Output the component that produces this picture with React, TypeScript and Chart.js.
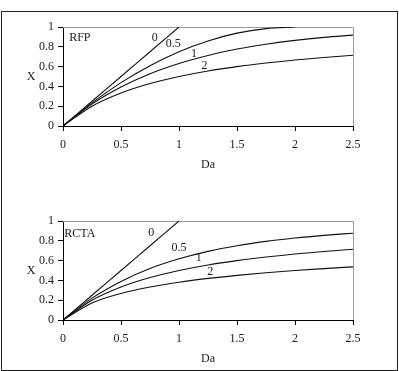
import React, { useEffect, useRef } from "react";
import { Chart, registerables } from "chart.js";

Chart.register(...registerables);

// ---- data ----
const daGrid = [0, 0.25, 0.5, 0.75, 1, 1.25, 1.5, 1.75, 2, 2.25, 2.5];
const xTickValues = [0, 0.5, 1, 1.5, 2, 2.5];
const yTickValues = [0, 0.2, 0.4, 0.6, 0.8, 1];
const curveNames = ["0", "0.5", "1", "2"];

// RFP panel
const rfp0 = [0, 0.25, 0.5, 0.75, 1, null, null, null, null, null, null];
const rfp05 = [0, 0.234, 0.438, 0.609, 0.75, 0.859, 0.938, 0.984, 1, null, null];
const rfp1 = [0, 0.221, 0.393, 0.528, 0.632, 0.713, 0.777, 0.826, 0.865, 0.895, 0.918];
const rfp2 = [0, 0.2, 0.333, 0.429, 0.5, 0.556, 0.6, 0.636, 0.667, 0.692, 0.714];

// RCTA panel
const rcta0 = [0, 0.25, 0.5, 0.75, 1, null, null, null, null, null, null];
const rcta05 = [0, 0.221, 0.39, 0.52, 0.618, 0.693, 0.75, 0.794, 0.828, 0.855, 0.877];
const rcta1 = [0, 0.2, 0.333, 0.429, 0.5, 0.556, 0.6, 0.636, 0.667, 0.692, 0.714];
const rcta2 = [0, 0.172, 0.268, 0.333, 0.382, 0.42, 0.451, 0.478, 0.5, 0.519, 0.537];

// curve-label anchors (in data units)
const rfpLabelDa = [0.79, 0.95, 1.13, 1.22];
const rfpLabelX = [0.89, 0.83, 0.73, 0.61];
const rctaLabelDa = [0.76, 1.0, 1.17, 1.27];
const rctaLabelX = [0.88, 0.73, 0.63, 0.49];

const SERIF = "'Liberation Serif', 'Times New Roman', serif";
const TEXT = "#1a1a1a";

type PanelSpec = {
  name: string;
  nameDa: number;
  nameX: number;
  series: (number | null)[][];
  labelDa: number[];
  labelX: number[];
};

const panels: PanelSpec[] = [
  { name: "RFP", nameDa: 0.145, nameX: 0.89, series: [rfp0, rfp05, rfp1, rfp2], labelDa: rfpLabelDa, labelX: rfpLabelX },
  { name: "RCTA", nameDa: 0.145, nameX: 0.87, series: [rcta0, rcta05, rcta1, rcta2], labelDa: rctaLabelDa, labelX: rctaLabelX },
];

function toPoints(values: (number | null)[]) {
  const pts: { x: number; y: number }[] = [];
  values.forEach((v, i) => {
    if (v !== null) pts.push({ x: daGrid[i], y: v });
  });
  return pts;
}

function makeDecor(spec: PanelSpec) {
  return {
    id: "decor",
    beforeDatasetsDraw(chart: any) {
      const { ctx, chartArea } = chart;
      ctx.save();
      ctx.strokeStyle = "#9a9a9a";
      ctx.lineWidth = 1;
      ctx.beginPath();
      ctx.moveTo(chartArea.left, Math.round(chartArea.top) + 0.5);
      ctx.lineTo(Math.round(chartArea.right) + 0.5, Math.round(chartArea.top) + 0.5);
      ctx.lineTo(Math.round(chartArea.right) + 0.5, chartArea.bottom);
      ctx.stroke();
      ctx.restore();
    },
    afterDraw(chart: any) {
      const { ctx, chartArea, scales } = chart;
      ctx.save();
      ctx.fillStyle = TEXT;
      ctx.font = `12px ${SERIF}`;
      ctx.textAlign = "center";
      ctx.textBaseline = "middle";
      ctx.fillText(spec.name, scales.x.getPixelForValue(spec.nameDa), scales.y.getPixelForValue(spec.nameX));
      curveNames.forEach((n, i) => {
        ctx.fillText(n, scales.x.getPixelForValue(spec.labelDa[i]), scales.y.getPixelForValue(spec.labelX[i]));
      });
      ctx.fillText("X", 31, (chartArea.top + chartArea.bottom) / 2);
      ctx.restore();
    },
  };
}

function Panel({ spec, top }: { spec: PanelSpec; top: number }) {
  const ref = useRef<HTMLCanvasElement>(null);
  useEffect(() => {
    const tickFont = { family: SERIF, size: 12 };
    const chart = new Chart(ref.current as HTMLCanvasElement, {
      type: "line",
      data: {
        datasets: spec.series.map((s, i) => ({
          label: curveNames[i],
          data: toPoints(s),
          borderColor: "#111",
          borderWidth: 1.1,
          pointRadius: 0,
          fill: false,
          cubicInterpolationMode: "monotone" as const,
        })),
      },
      options: {
        responsive: false,
        animation: false,
        layout: { padding: { top: 27, right: 46, left: 0, bottom: 0 } },
        plugins: { legend: { display: false }, tooltip: { enabled: false } },
        scales: {
          x: {
            type: "linear",
            min: 0,
            max: 2.5,
            afterBuildTicks: (s: any) => {
              s.ticks = xTickValues.map((v) => ({ value: v }));
            },
            afterFit: (s: any) => {
              s.height = 46;
            },
            grid: { drawOnChartArea: false, drawTicks: true, tickLength: 5, color: "#000", lineWidth: 1 },
            border: { color: "#000", width: 1 },
            ticks: { color: TEXT, font: tickFont, padding: 7, maxRotation: 0, callback: (v: any) => String(v) },
            title: { display: true, text: "Da", color: TEXT, font: tickFont, padding: 0 },
          },
          y: {
            type: "linear",
            min: 0,
            max: 1,
            afterBuildTicks: (s: any) => {
              s.ticks = yTickValues.map((v) => ({ value: v }));
            },
            afterFit: (s: any) => {
              s.width = 63;
            },
            grid: { drawOnChartArea: false, drawTicks: true, tickLength: 5, color: "#000", lineWidth: 1 },
            border: { color: "#000", width: 1 },
            ticks: { color: TEXT, font: tickFont, padding: 4, callback: (v: any) => String(v) },
          },
        },
      },
      plugins: [makeDecor(spec)],
    } as any);
    return () => chart.destroy();
  }, [spec]);
  return (
    <canvas
      ref={ref}
      width={399}
      height={172}
      style={{ position: "absolute", left: 0, top, width: 399, height: 172 }}
    />
  );
}

export default function App() {
  return (
    <div style={{ position: "fixed", left: 0, top: 0, width: 399, height: 371, background: "#fff", overflow: "hidden" }}>
      <div
        style={{
          position: "absolute",
          left: 1,
          top: 11,
          width: 397,
          height: 360,
          boxSizing: "border-box",
          border: "1px solid #222",
        }}
      />
      <Panel spec={panels[0]} top={0} />
      <Panel spec={panels[1]} top={194} />
    </div>
  );
}
